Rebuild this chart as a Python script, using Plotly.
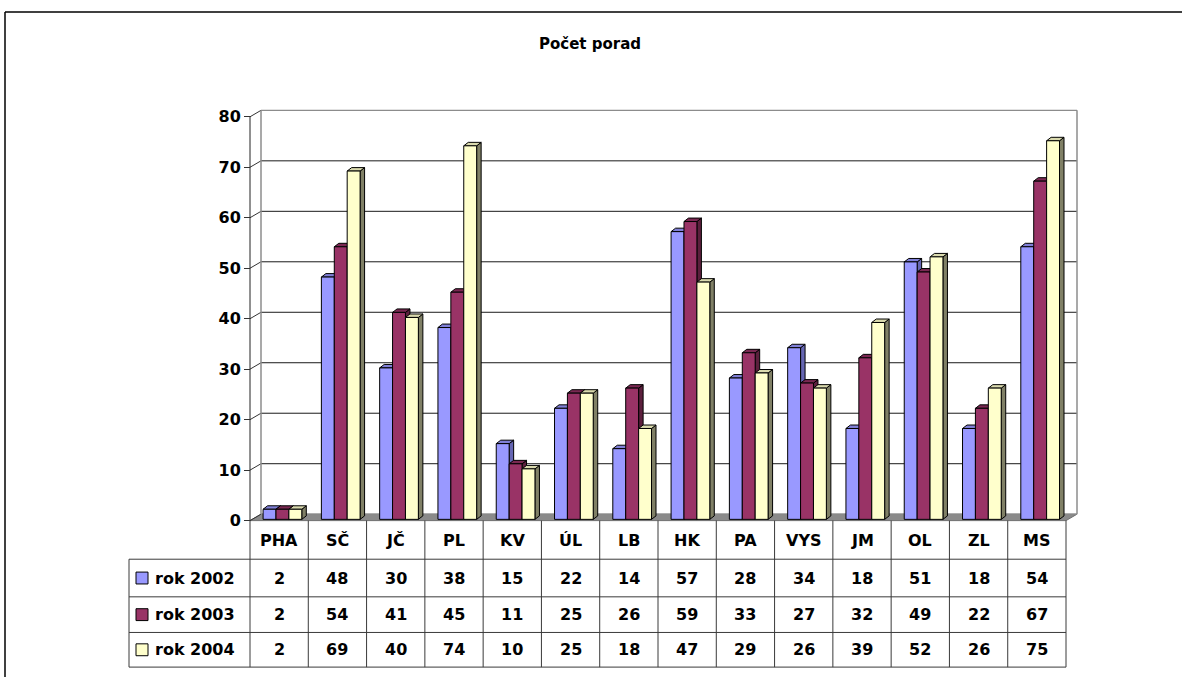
import plotly.graph_objects as go

# ---------------- data ----------------
categories = ["PHA", "SČ", "JČ", "PL", "KV", "ÚL", "LB", "HK", "PA", "VYS", "JM", "OL", "ZL", "MS"]
series_names = ["rok 2002", "rok 2003", "rok 2004"]
rok_2002 = [2, 48, 30, 38, 15, 22, 14, 57, 28, 34, 18, 51, 18, 54]
rok_2003 = [2, 54, 41, 45, 11, 25, 26, 59, 33, 27, 32, 49, 22, 67]
rok_2004 = [2, 69, 40, 74, 10, 25, 18, 47, 29, 26, 39, 52, 26, 75]
y_ticks = [0, 10, 20, 30, 40, 50, 60, 70, 80]
chart_title = "Počet porad"

series_values = [rok_2002, rok_2003, rok_2004]
front_colors = ["#9999FF", "#993366", "#FFFFCC"]
top_colors = ["#8080D8", "#7A2852", "#DADAAE"]
side_colors = ["#6666B3", "#5C1F3D", "#808066"]

# ---------------- geometry (pixels) ----------------
W, H = 1182, 684
X0 = 250.0        # left edge of first category column (front plane)
COLW = 58.286     # pixels per category
Y0 = 526.0        # pixel of value 0 on front plane
UNIT = 5.1        # pixels per value unit
FONT = "DejaVu Sans"


def xp(px):
    return px / W


def yp(py):
    return 1 - py / H


n = len(categories)
x_idx = list(range(n))
x_lo, x_hi = -0.6, n - 0.5 + 0.25
y_lo, y_hi = -0.5, 82.0

WALL_DX = 11.0 / COLW
WALL_DY = 6.5 / UNIT
BAR_DX = 4.5 / COLW
BAR_DY = 3.5 / UNIT
BW = 12.9 / COLW
SHIFT = 3.3 / COLW
BASE = 0.25

fig = go.Figure()

for k, (name, vals) in enumerate(zip(series_names, series_values)):
    fig.add_trace(go.Bar(
        x=x_idx, y=vals, base=BASE, width=BW,
        offset=-1.5 * BW + k * BW + SHIFT,
        name=name,
        marker=dict(color=front_colors[k], line=dict(color="black", width=1)),
        showlegend=False,
    ))

shapes = []
grid_col = "#8c8c8c"
# floor
shapes.append(dict(type="path", xref="x", yref="y", layer="below",
                   path=f"M -0.5,0 L {n-0.5},0 L {n-0.5+WALL_DX},{WALL_DY} L {-0.5+WALL_DX},{WALL_DY} Z",
                   fillcolor="#8a8a8a", line=dict(color="#6e6e6e", width=1)))
# back wall gridlines
for v in y_ticks:
    col = grid_col if v in (y_ticks[0], y_ticks[-1]) else "#1a1a1a"
    shapes.append(dict(type="line", xref="x", yref="y", layer="below",
                       x0=-0.5 + WALL_DX, x1=n - 0.5 + WALL_DX,
                       y0=v + WALL_DY, y1=v + WALL_DY,
                       line=dict(color=col, width=1.2 if col == grid_col else 1)))
    # left wall diagonals
    shapes.append(dict(type="line", xref="x", yref="y", layer="below",
                       x0=-0.5, x1=-0.5 + WALL_DX, y0=v, y1=v + WALL_DY,
                       line=dict(color="#333333", width=1)))
# back wall edges
for xx in (-0.5 + WALL_DX, n - 0.5 + WALL_DX):
    shapes.append(dict(type="line", xref="x", yref="y", layer="below",
                       x0=xx, x1=xx, y0=WALL_DY, y1=y_ticks[-1] + WALL_DY,
                       line=dict(color=grid_col, width=1.5)))
# front axis line
shapes.append(dict(type="line", xref="x", yref="y", layer="below",
                   x0=-0.5, x1=-0.5, y0=0, y1=y_ticks[-1],
                   line=dict(color="#222222", width=1)))

# 3D faces of bars
for i in range(n):
    for k in range(3):
        v = series_values[k][i]
        xl = i - 1.5 * BW + k * BW + SHIFT
        xr = xl + BW
        top = BASE + v
        shapes.append(dict(type="path", xref="x", yref="y", layer="below",
                           path=f"M {xr},{BASE} L {xr+BAR_DX},{BASE+BAR_DY} L {xr+BAR_DX},{top+BAR_DY} L {xr},{top} Z",
                           fillcolor=side_colors[k], line=dict(color="black", width=1)))
        shapes.append(dict(type="path", xref="x", yref="y", layer="below",
                           path=f"M {xl},{top} L {xr},{top} L {xr+BAR_DX},{top+BAR_DY} L {xl+BAR_DX},{top+BAR_DY} Z",
                           fillcolor=top_colors[k], line=dict(color="black", width=1)))

# ---------------- data table ----------------
tab_line = "#3a3a3a"
row_lines_px = [565, 603, 639, 674]
leg_left = 129
header_top = 526
for py in row_lines_px:
    shapes.append(dict(type="line", xref="paper", yref="paper",
                       x0=xp(leg_left), x1=xp(X0 + n * COLW), y0=yp(py), y1=yp(py),
                       line=dict(color=tab_line, width=1)))
shapes.append(dict(type="line", xref="paper", yref="paper",
                   x0=xp(leg_left), x1=xp(leg_left), y0=yp(row_lines_px[0]), y1=yp(row_lines_px[-1]),
                   line=dict(color=tab_line, width=1)))
shapes.append(dict(type="line", xref="paper", yref="paper",
                   x0=xp(X0), x1=xp(X0), y0=yp(header_top), y1=yp(row_lines_px[-1]),
                   line=dict(color=tab_line, width=1)))
for k in range(1, n + 1):
    shapes.append(dict(type="line", xref="x", yref="paper",
                       x0=k - 0.5, x1=k - 0.5, y0=yp(header_top), y1=yp(row_lines_px[-1]),
                       line=dict(color=tab_line, width=1)))

# outer frame
shapes.append(dict(type="line", xref="paper", yref="paper", x0=xp(5), x1=1, y0=yp(12), y1=yp(12),
                   line=dict(color="black", width=1.5)))
shapes.append(dict(type="line", xref="paper", yref="paper", x0=xp(5), x1=xp(5), y0=yp(12), y1=0,
                   line=dict(color="black", width=1.5)))

annotations = []
header_center = (header_top + row_lines_px[0]) / 2 + 1
row_centers = [(row_lines_px[j] + row_lines_px[j + 1]) / 2 for j in range(3)]
for i, c in enumerate(categories):
    annotations.append(dict(x=i, xref="x", y=yp(header_center), yref="paper",
                            xanchor="center", yanchor="middle",
                            text=f"<b>{c}</b>", showarrow=False,
                            font=dict(family=FONT, size=16, color="black")))
for k in range(3):
    for i in range(n):
        annotations.append(dict(x=i, xref="x", y=yp(row_centers[k]), yref="paper",
                                xanchor="center", yanchor="middle",
                                text=f"<b>{series_values[k][i]}</b>", showarrow=False,
                                font=dict(family=FONT, size=16, color="black")))
    cy = row_centers[k]
    shapes.append(dict(type="rect", xref="paper", yref="paper",
                       x0=xp(136), x1=xp(148), y0=yp(cy + 6), y1=yp(cy - 6),
                       fillcolor=front_colors[k], line=dict(color="black", width=1)))
    annotations.append(dict(x=xp(153), xref="paper", y=yp(cy), yref="paper",
                            text=f"<b>{series_names[k]}</b>", showarrow=False,
                            xanchor="left", yanchor="middle",
                            font=dict(family=FONT, size=16, color="black")))

annotations.append(dict(x=xp(590), xref="paper", y=yp(44), yref="paper",
                        xanchor="center", yanchor="middle",
                        text=f"<b>{chart_title}</b>", showarrow=False,
                        font=dict(family=FONT, size=15, color="black")))

fig.update_layout(
    width=W, height=H,
    margin=dict(l=0, r=0, t=0, b=0),
    paper_bgcolor="white", plot_bgcolor="white",
    barmode="overlay",
    showlegend=False,
    shapes=shapes,
    annotations=annotations,
    xaxis=dict(type="linear", range=[x_lo, x_hi],
               domain=[xp(X0 + (x_lo + 0.5) * COLW), xp(X0 + (x_hi + 0.5) * COLW)],
               showgrid=False, zeroline=False, showticklabels=False, ticks="", showline=False),
    yaxis=dict(range=[y_lo, y_hi],
               domain=[yp(Y0 - y_lo * UNIT), yp(Y0 - y_hi * UNIT)],
               anchor="free", position=xp(X0),
               tickvals=y_ticks, ticktext=[f"<b>{t}</b>" for t in y_ticks],
               ticks="outside", ticklen=6, tickcolor="#333333",
               tickfont=dict(family=FONT, size=16, color="black"),
               showgrid=False, zeroline=False, showline=False),
)

page_fix = (
    "var de=document.documentElement, b=document.body;"
    "var st=document.createElement('style');"
    "st.textContent='html,body{margin:0;padding:0;overflow:hidden;height:684px;}.main-svg{overflow:hidden !important;}';"
    "document.head.appendChild(st);"
    "var w=b.firstElementChild; if(w){w.style.height='684px';w.style.overflow='hidden';w.style.lineHeight='0';w.style.fontSize='0';}"
)
fig.write_html("out.html", config={"displayModeBar": False}, post_script=page_fix)
